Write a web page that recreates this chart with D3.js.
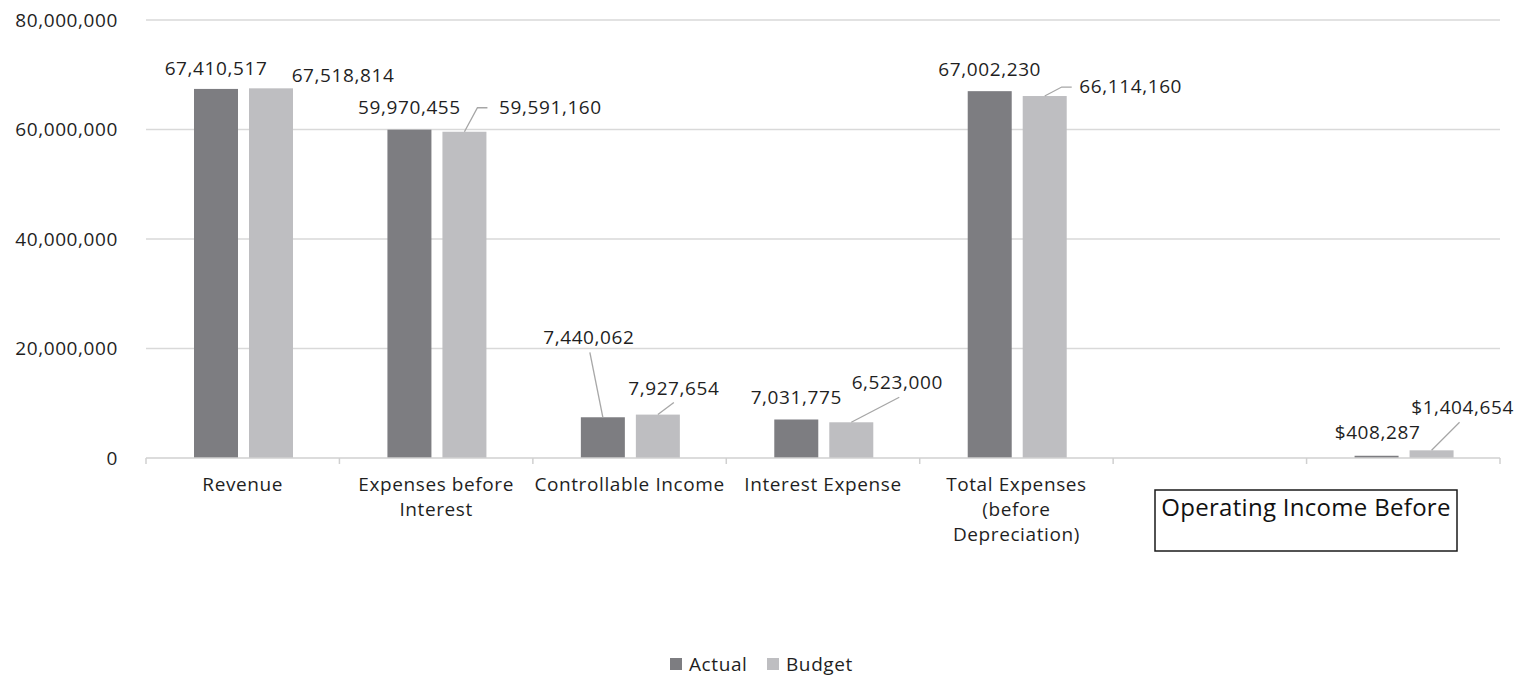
<!DOCTYPE html>
<html lang="en">
<head>
    <meta charset="UTF-8">
    <title>Actual vs Budget</title>
    <script src="https://d3js.org/d3.v7.min.js"></script>
    <style>
        body { margin: 0; background: #fff; }
        text { font-family: "Open Sans", sans-serif; fill: #1f1f1f; letter-spacing: 0.6px; }
        .grid line { stroke: #d9d9d9; stroke-width: 1.5; }
        .axis path, .axis line { stroke: #d0d0d0; stroke-width: 1.5; }
    </style>
</head>
<body>
<svg id="svg" width="1522" height="688"></svg>

<script>

// chart values
let categories = ['Revenue', 'Expenses before\nInterest', 'Controllable Income', 'Interest Expense',
    'Total Expenses\n(before\nDepreciation)', '', ''];
let series = ['Actual', 'Budget'];
let actual = [67410517, 59970455, 7440062, 7031775, 67002230, null, 408287];
let budget = [67518814, 59591160, 7927654, 6523000, 66114160, null, 1404654];
let actualLabels = ['67,410,517', '59,970,455', '7,440,062', '7,031,775', '67,002,230', null, '$408,287'];
let budgetLabels = ['67,518,814', '59,591,160', '7,927,654', '6,523,000', '66,114,160', null, '$1,404,654'];
let yTicks = [0, 20000000, 40000000, 60000000, 80000000];

let colors = {Actual: '#7d7d81', Budget: '#bebec1'};

// label placement relative to bar top centre (Excel moved some of them by hand)
let actualPos = [
    {dx: 0, dy: -21}, {dx: 0, dy: -22}, {dx: -14, dy: -80, leader: [[-13, -65]]},
    {dx: 0, dy: -22}, {dx: 0, dy: -22}, null, {dx: 1, dy: -23}
];
let budgetPos = [
    {dx: 72, dy: -13}, {dx: 86, dy: -24, leader: [[13, -24], [23, -24]]}, {dx: 16, dy: -26, leader: [[16, -12]]},
    {dx: 46, dy: -40, leader: [[48, -25]]}, {dx: 86, dy: -10, leader: [[17, -9], [27, -9]]}, null,
    {dx: 31, dy: -43, leader: [[28, -28]]}
];

let svg = d3.select('#svg');
let plotLeft = 146, plotRight = 1500, plotTop = 20, plotBottom = 458;

let x0 = d3.scaleBand()
    .domain(d3.range(categories.length))
    .range([plotLeft, plotRight]);

let x1 = d3.scaleBand()
    .domain(series)
    .range([48, 147])
    .paddingInner(0.2);

let y = d3.scaleLinear()
    .domain([0, 80000000])
    .range([plotBottom, plotTop]);

// gridlines
svg.append('g')
    .attr('class', 'grid')
    .selectAll('line')
    .data(yTicks.slice(1))
    .enter()
    .append('line')
    .attr('x1', plotLeft)
    .attr('x2', plotRight)
    .attr('y1', d => y(d))
    .attr('y2', d => y(d));

// y tick labels
svg.append('g')
    .selectAll('text')
    .data(yTicks)
    .enter()
    .append('text')
    .attr('x', 118)
    .attr('y', d => y(d))
    .attr('dy', '0.35em')
    .attr('text-anchor', 'end')
    .style('font-size', '19px')
    .text(d => d3.format(',')(d));

// bars
let rows = categories.map((c, i) => ({i: i, Actual: actual[i], Budget: budget[i]}));

let groups = svg.append('g')
    .selectAll('g')
    .data(rows)
    .enter()
    .append('g')
    .attr('transform', d => `translate(${x0(d.i)},0)`);

groups.selectAll('rect')
    .data(d => series.filter(s => d[s] != null).map(s => ({key: s, value: d[s]})))
    .enter()
    .append('rect')
    .attr('x', d => x1(d.key))
    .attr('width', x1.bandwidth())
    .attr('y', d => y(d.value))
    .attr('height', d => y(0) - y(d.value))
    .attr('fill', d => colors[d.key]);

// x axis
let xAxis = d3.axisBottom(x0).tickSize(0).tickFormat('');
let axisG = svg.append('g')
    .attr('class', 'axis')
    .attr('transform', `translate(0,${plotBottom})`)
    .call(xAxis);
axisG.select('.domain').attr('d', `M${plotLeft},0H${plotRight}`);

// category separators
axisG.selectAll('.sep')
    .data(d3.range(categories.length + 1))
    .enter()
    .append('line')
    .attr('class', 'sep')
    .attr('x1', i => plotLeft + i * x0.step())
    .attr('x2', i => plotLeft + i * x0.step())
    .attr('y1', 0)
    .attr('y2', 6);

// category labels
svg.append('g')
    .selectAll('text')
    .data(categories)
    .enter()
    .append('text')
    .attr('x', (d, i) => x0(i) + x0.bandwidth() / 2)
    .attr('y', 484)
    .attr('text-anchor', 'middle')
    .style('font-size', '19px')
    .each(function (d) {
        let t = d3.select(this);
        d.split('\n').forEach((line, k) => {
            t.append('tspan')
                .attr('x', t.attr('x'))
                .attr('dy', k === 0 ? '0.35em' : '25px')
                .text(line);
        });
    });

// data labels with leader lines
function drawLabels(key, values, labels, pos) {
    let g = svg.append('g');
    values.forEach((v, i) => {
        if (v == null) return;
        let cx = x0(i) + x1(key) + x1.bandwidth() / 2;
        let cy = y(v);
        let p = pos[i];
        if (p.leader) {
            let pts = [[cx, cy]].concat(p.leader.map(q => [cx + q[0], cy + q[1]]));
            g.append('path')
                .attr('d', d3.line()(pts))
                .attr('fill', 'none')
                .attr('stroke', '#a6a6a6')
                .attr('stroke-width', 1.3);
        }
        g.append('text')
            .attr('x', cx + p.dx)
            .attr('y', cy + p.dy)
            .attr('dy', '0.35em')
            .attr('text-anchor', 'middle')
            .style('font-size', '19px')
            .text(labels[i]);
    });
}
drawLabels('Actual', actual, actualLabels, actualPos);
drawLabels('Budget', budget, budgetLabels, budgetPos);

// text box overlay
svg.append('rect')
    .attr('x', 1155)
    .attr('y', 490)
    .attr('width', 302)
    .attr('height', 61)
    .attr('fill', '#fff')
    .attr('stroke', '#1a1a1a')
    .attr('stroke-width', 1.5);
svg.append('text')
    .attr('x', 1306)
    .attr('y', 508)
    .attr('dy', '0.35em')
    .attr('text-anchor', 'middle')
    .style('font-size', '24px')
    .style('letter-spacing', '0.3px')
    .style('fill', '#111')
    .text('Operating Income Before');

// legend
let legend = svg.append('g').attr('transform', 'translate(670,664)');
let items = legend.selectAll('g')
    .data(series)
    .enter()
    .append('g')
    .attr('transform', (d, i) => `translate(${i * 97},0)`);
items.append('rect')
    .attr('x', 0)
    .attr('y', -6)
    .attr('width', 12)
    .attr('height', 12)
    .attr('fill', d => colors[d]);
items.append('text')
    .attr('x', 19)
    .attr('y', 0)
    .attr('dy', '0.35em')
    .style('font-size', '19px')
    .text(d => d);

</script>
</body>
</html>
